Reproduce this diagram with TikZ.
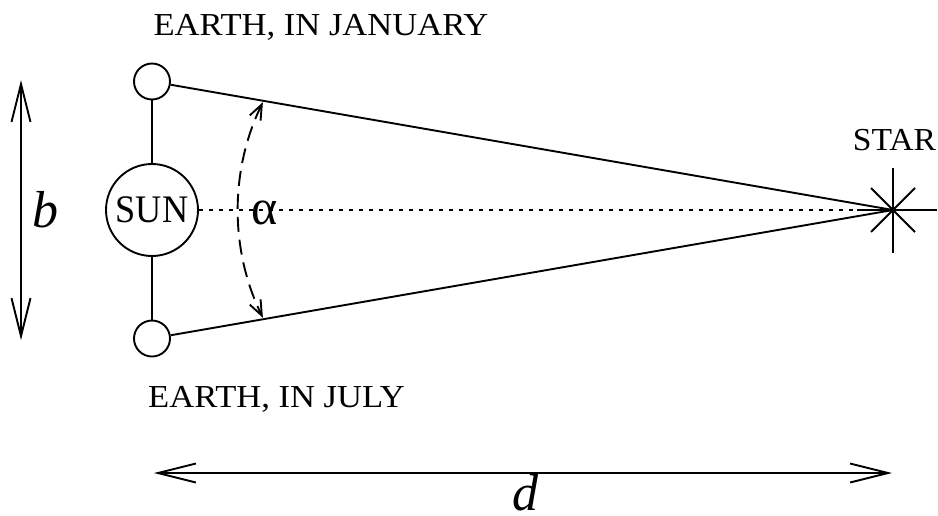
\documentclass[tikz,border=0pt]{standalone}
\usepackage{fontspec}
\setmainfont{Liberation Serif}
\usetikzlibrary{arrows.meta}
\begin{document}
\begin{tikzpicture}[x=1pt,y=-1pt,
  line width=1.9pt,
  body/.style={circle,draw,line width=1.9pt,inner sep=0pt},
  lbl/.style={inner sep=0pt,anchor=base,font=\fontsize{32}{34}\selectfont},
  big/.style={inner sep=0pt,anchor=base,font=\fontsize{52}{54}\selectfont\itshape},
  dimarrow/.style={{Straight Barb[length=38pt,width=19pt]}-{Straight Barb[length=38pt,width=19pt]}},
  anglearrow/.style={dash pattern=on 15pt off 8pt,{Straight Barb[length=15pt,width=12pt]}-{Straight Barb[length=15pt,width=12pt]}},
  sightline/.style={dash pattern=on 4pt off 6pt}
]
\useasboundingbox (0,0) rectangle (938,515);
% bodies
\node[body,minimum size=36pt] (jan) at (152,81.5) {};
\node[body,minimum size=36pt] (jul) at (152,338.5) {};
\node[body,minimum size=92pt,font=\fontsize{39}{41}\selectfont] (sun) at (152,210) {\scalebox{0.93}[1]{SUN}};
\coordinate (star) at (893,210);
% orbit connectors
\draw (jan) -- (sun);
\draw (sun) -- (jul);
% lines of sight
\draw (jan) -- (star);
\draw (jul) -- (star);
\draw[sightline] (sun) -- (star);
% star symbol
\draw ([yshift=42.5pt]star) -- ([yshift=-42.5pt]star);
\draw ([xshift=-36pt]star) -- ([xshift=44pt]star);
\draw ([shift={(-22pt,22pt)}]star) -- ([shift={(22pt,-22pt)}]star);
\draw ([shift={(-22pt,-22pt)}]star) -- ([shift={(22pt,22pt)}]star);
% angle arc
\coordinate (arctop) at (262.9,102.2);
\coordinate (arcbot) at (262.9,317.8);
\draw[anglearrow] (arctop) to[bend right=26,looseness=0.9] (arcbot);
\node[inner sep=0pt,anchor=base,font=\fontsize{50}{52}\selectfont] (alpha) at (265,224) {α};
% labels
\node[lbl] (janlbl) at (321,35) {\scalebox{1.08}[1]{EARTH, IN JANUARY}};
\node[lbl] (jullbl) at (276.5,407) {\scalebox{1.08}[1]{EARTH, IN JULY}};
\node[lbl] (starlbl) at (894.5,150) {\scalebox{1.05}[1]{STAR}};
% dimension arrows
\coordinate (btop) at (21,80);
\coordinate (bbot) at (21,340);
\draw[dimarrow] (btop) -- (bbot);
\node[big] (blbl) at (45,227) {b};
\coordinate (dleft) at (154,473);
\coordinate (dright) at (892,473);
\draw[dimarrow] (dleft) -- (dright);
\node[big] (dlbl) at (525,510) {d};
\end{tikzpicture}
\end{document}
